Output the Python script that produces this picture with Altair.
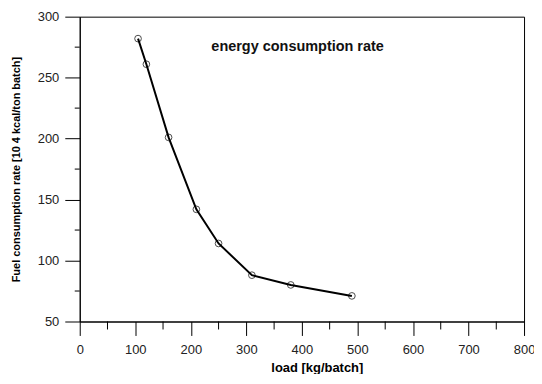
import altair as alt
import pandas as pd

load = [105, 120, 160, 210, 250, 310, 380, 490]
fuel = [282, 261, 201, 142, 114, 88, 80, 71]
x_major = [0, 100, 200, 300, 400, 500, 600, 700, 800]
x_minor = [50, 150, 250, 350, 450, 550, 650, 750]
y_major = [50, 100, 150, 200, 250, 300]
y_minor = [75, 125, 175, 225, 275]
label_text = ["energy consumption rate"]
label_x = [237]
label_y = [275]

df = pd.DataFrame({"load": load, "fuel": fuel})
xs = alt.Scale(domain=[0, 800], nice=False, zero=False)
ys = alt.Scale(domain=[50, 300], nice=False, zero=False)
FONT = "Liberation Sans"

x_axis = alt.Axis(values=x_major, tickSize=14, tickColor="black", domainColor="black",
                  labelFont=FONT, labelFontSize=13, labelColor="#222", labelPadding=8,
                  title="load [kg/batch]", titleFont=FONT, titleFontSize=13, titleFontWeight="bold",
                  titleColor="black", titleX=238, titleY=46, titleBaseline="middle",
                  titleAlign="center", grid=False, labelFlush=False)
y_axis = alt.Axis(values=y_major, tickSize=15, tickColor="black", domainColor="black",
                  labelFont=FONT, labelFontSize=13, labelColor="#222", labelPadding=6,
                  title="Fuel consumption rate [10 4 kcal/ton batch]", titleFont=FONT,
                  titleFontSize=11, titleFontWeight="bold", titleColor="black", titlePadding=16,
                  grid=False, labelFlush=False)

base = alt.Chart(df).encode(
    x=alt.X("load:Q", scale=xs, axis=x_axis),
    y=alt.Y("fuel:Q", scale=ys, axis=y_axis),
)
line = base.mark_line(color="black", strokeWidth=2)
pts = base.mark_point(shape="circle", size=45, color="black", strokeWidth=1, filled=False)

xmin = alt.Chart(pd.DataFrame({"load": x_minor})).mark_rule(color="black", strokeWidth=1).encode(
    x=alt.X("load:Q", scale=xs, axis=x_axis), y=alt.value(306), y2=alt.value(314))
ymin = alt.Chart(pd.DataFrame({"fuel": y_minor})).mark_rule(color="black", strokeWidth=1).encode(
    y=alt.Y("fuel:Q", scale=ys, axis=y_axis), x=alt.value(0), x2=alt.value(-5))

txt = alt.Chart(pd.DataFrame({"t": label_text, "load": label_x, "fuel": label_y})).mark_text(
    align="left", baseline="middle", font=FONT, fontSize=14.5, fontWeight="bold", color="#111").encode(
    x=alt.X("load:Q", scale=xs, axis=x_axis), y=alt.Y("fuel:Q", scale=ys, axis=y_axis), text="t:N")

chart = alt.layer(line, pts, xmin, ymin, txt).properties(
    width=446, height=306,
    autosize=alt.AutoSizeParams(type="none"),
    padding={"left": 72, "top": 8, "right": 10, "bottom": 52},
).configure(background="white").configure_view(stroke="black", strokeWidth=1)

chart.save("out.html", embed_options={"renderer": "svg", "actions": False})
